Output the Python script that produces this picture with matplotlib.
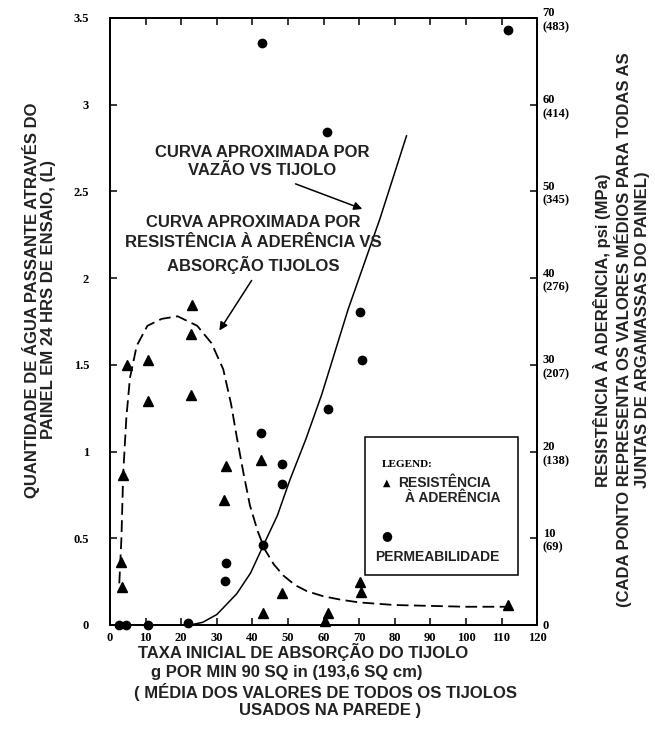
import matplotlib.pyplot as plt
from matplotlib.patches import Rectangle

# Dados lidos da figura
# permeabilidade (eixo esquerdo, litros)
perm_x = [2.5, 4.5, 10.8, 22.0, 32.3, 32.6, 42.4, 42.6, 43.1, 48.4, 48.4, 60.9, 61.3, 70.2, 70.7, 111.9]
perm_y = [0.0, 0.0, 0.0, 0.01, 0.255, 0.355, 1.105, 3.355, 0.46, 0.93, 0.81, 2.845, 1.245, 1.805, 1.53, 3.43]

# resistencia a aderencia (eixo direito, psi)
ader_x = [3.1, 3.5, 3.7, 4.7, 10.8, 10.8, 22.8, 22.8, 22.9, 32.1, 32.5, 42.4, 43.1, 48.2, 60.5, 61.2, 70.2, 70.4, 111.8]
ader_y = [7.3, 4.4, 17.3, 30.0, 30.6, 25.8, 33.5, 26.5, 36.9, 14.4, 18.3, 19.0, 1.4, 3.7, 0.5, 1.4, 4.9, 3.8, 2.3]

# curva aproximada vazao vs tijolo
vazao_x = [0, 22.5, 26, 30, 35.6, 39.5, 43.1, 47, 50.6, 55, 59.5, 66.9, 75.8, 83.3]
vazao_y = [0, 0, 0.015, 0.06, 0.18, 0.30, 0.46, 0.63, 0.84, 1.07, 1.33, 1.82, 2.34, 2.82]

# curva aproximada resistencia vs absorcao
curva_x = [2.6, 3.2, 3.7, 4.6, 5.6, 7.5, 10.5, 14.5, 19.0, 24.5, 28.5, 31.8, 34.0, 35.6, 37.5,
           39.3, 41.5, 43.5, 46.0, 48.7, 52.0, 55.3, 60.0, 65.0, 70.0, 80.0, 90.0, 100.0, 111.0]
curva_y = [4.8, 10.0, 17.5, 24.0, 28.5, 32.2, 34.5, 35.3, 35.6, 34.5, 32.5, 29.5, 25.5, 21.7, 17.5,
           13.8, 10.8, 8.7, 7.0, 5.7, 4.6, 3.9, 3.3, 2.9, 2.6, 2.3, 2.2, 2.1, 2.1]

x_ticks = list(range(0, 121, 10))
left_ticks = [0, 0.5, 1, 1.5, 2, 2.5, 3, 3.5]
left_labels = ["0", "0.5", "1", "1.5", "2", "2.5", "3", "3.5"]
right_ticks = [0, 10, 20, 30, 40, 50, 60, 70]
right_labels = ["0", "10\n(69)", "20\n(138)", "30\n(207)", "40\n(276)",
                "50\n(345)", "60\n(414)", "70\n(483)"]

sans = "Liberation Sans"
serif = "Liberation Serif"
tc = "#222222"

fig = plt.figure(figsize=(6.55, 7.49), dpi=100)
ax = fig.add_axes([0.168, 0.1656, 0.652, 0.8104])
ax2 = ax.twinx()

# permeabilidade
ax.plot(vazao_x, vazao_y, color="black", lw=1.1)
ax.plot(perm_x, perm_y, "o", color="black", ms=6, clip_on=False)

# aderencia
ax2.plot(curva_x, curva_y, color="black", lw=1.3, dashes=(6.5, 3))
ax2.plot(ader_x, ader_y, "^", color="black", ms=7, clip_on=False)

ax.set_xlim(0, 120)
ax.set_ylim(0, 3.5)
ax2.set_ylim(0, 70)

ax.set_xticks(x_ticks)
ax.set_xticklabels([str(t) for t in x_ticks], fontfamily=serif, fontweight="bold", fontsize=9)
ax.set_yticks(left_ticks)
ax.set_yticklabels(left_labels, fontfamily=serif, fontweight="bold", fontsize=9)
ax2.set_yticks(right_ticks)
ax2.set_yticklabels(right_labels, fontfamily=serif, fontweight="bold", fontsize=9, ha="left")

ax.tick_params(axis="x", direction="in", length=5, width=1.1, top=True, pad=5)
ax.tick_params(axis="y", direction="in", length=5, width=1.1, pad=15)
ax2.tick_params(axis="y", direction="in", length=5, width=1.1, pad=4)
for a in (ax, ax2):
    for s in a.spines.values():
        s.set_linewidth(1.3)

# anotacoes
ax.text(42.7, 2.673, "CURVA APROXIMADA POR\nVAZÃO VS TIJOLO", ha="center", va="center",
        fontfamily=sans, fontweight="bold", fontsize=12, color=tc, linespacing=1.3)
ax.annotate("", xy=(71.6, 2.393), xytext=(51.4, 2.549),
            arrowprops=dict(arrowstyle="-|>", color="black", lw=1.1, mutation_scale=12))
ax.text(40.2, 2.194, "CURVA APROXIMADA POR\nRESISTÊNCIA À ADERÊNCIA VS\nABSORÇÃO TIJOLOS",
        ha="center", va="center", fontfamily=sans, fontweight="bold", fontsize=12, color=tc,
        linespacing=1.4)
ax.annotate("", xy=(30.3, 1.684), xytext=(40.2, 2.0),
            arrowprops=dict(arrowstyle="-|>", color="black", lw=1.1, mutation_scale=12))

# legenda desenhada a mao
ax.add_patch(Rectangle((0.597, 0.082), 0.358, 0.228, transform=ax.transAxes,
                       fill=False, lw=1.1, color="black", zorder=5))
ax.text(0.637, 0.264, "LEGEND:", transform=ax.transAxes, fontfamily=serif,
        fontweight="bold", fontsize=8, va="center")
ax.text(0.638, 0.234, "▲", transform=ax.transAxes, fontfamily="DejaVu Sans", fontsize=7, va="center")
ax.text(0.674, 0.234, "RESISTÊNCIA", transform=ax.transAxes, fontfamily=sans,
        fontweight="bold", fontsize=10, color=tc, va="center")
ax.text(0.690, 0.209, "À ADERÊNCIA", transform=ax.transAxes, fontfamily=sans,
        fontweight="bold", fontsize=10, color=tc, va="center")
ax.text(0.636, 0.148, "●", transform=ax.transAxes, fontfamily="DejaVu Sans", fontsize=9, va="center")
ax.text(0.621, 0.112, "PERMEABILIDADE", transform=ax.transAxes, fontfamily=sans,
        fontweight="bold", fontsize=10, color=tc, va="center")

# rotulos dos eixos
fig.text(0.0595, 0.5995, "QUANTIDADE DE ÁGUA PASSANTE ATRAVÉS DO\nPAINEL EM 24 HRS DE ENSAIO, (L)",
         rotation=90, ha="center", va="center", multialignment="center",
         fontfamily=sans, fontweight="bold", fontsize=12, color=tc, linespacing=1.15)
fig.text(0.949, 0.5594, "RESISTÊNCIA À ADERÊNCIA, psi (MPa)\n"
         "(CADA PONTO REPRESENTA OS VALORES MÉDIOS PARA TODAS AS\n"
         "JUNTAS DE ARGAMASSAS DO PAINEL)",
         rotation=90, ha="center", va="center", multialignment="center",
         fontfamily=sans, fontweight="bold", fontsize=12, color=tc, linespacing=1.2)

xlabel_lines = ["TAXA INICIAL DE ABSORÇÃO DO TIJOLO",
                "g POR MIN 90 SQ in (193,6 SQ cm)",
                "( MÉDIA DOS VALORES DE TODOS OS TIJOLOS",
                "USADOS NA PAREDE )"]
xlabel_cx = [303, 287, 326, 330]
xlabel_cy = [652, 672, 692, 711]
for txt, cx, cy in zip(xlabel_lines, xlabel_cx, xlabel_cy):
    fig.text(cx / 655, 1 - cy / 749, txt, ha="center", va="center",
             fontfamily=sans, fontweight="bold", fontsize=12, color=tc)

fig.savefig("out.png", dpi=100)
